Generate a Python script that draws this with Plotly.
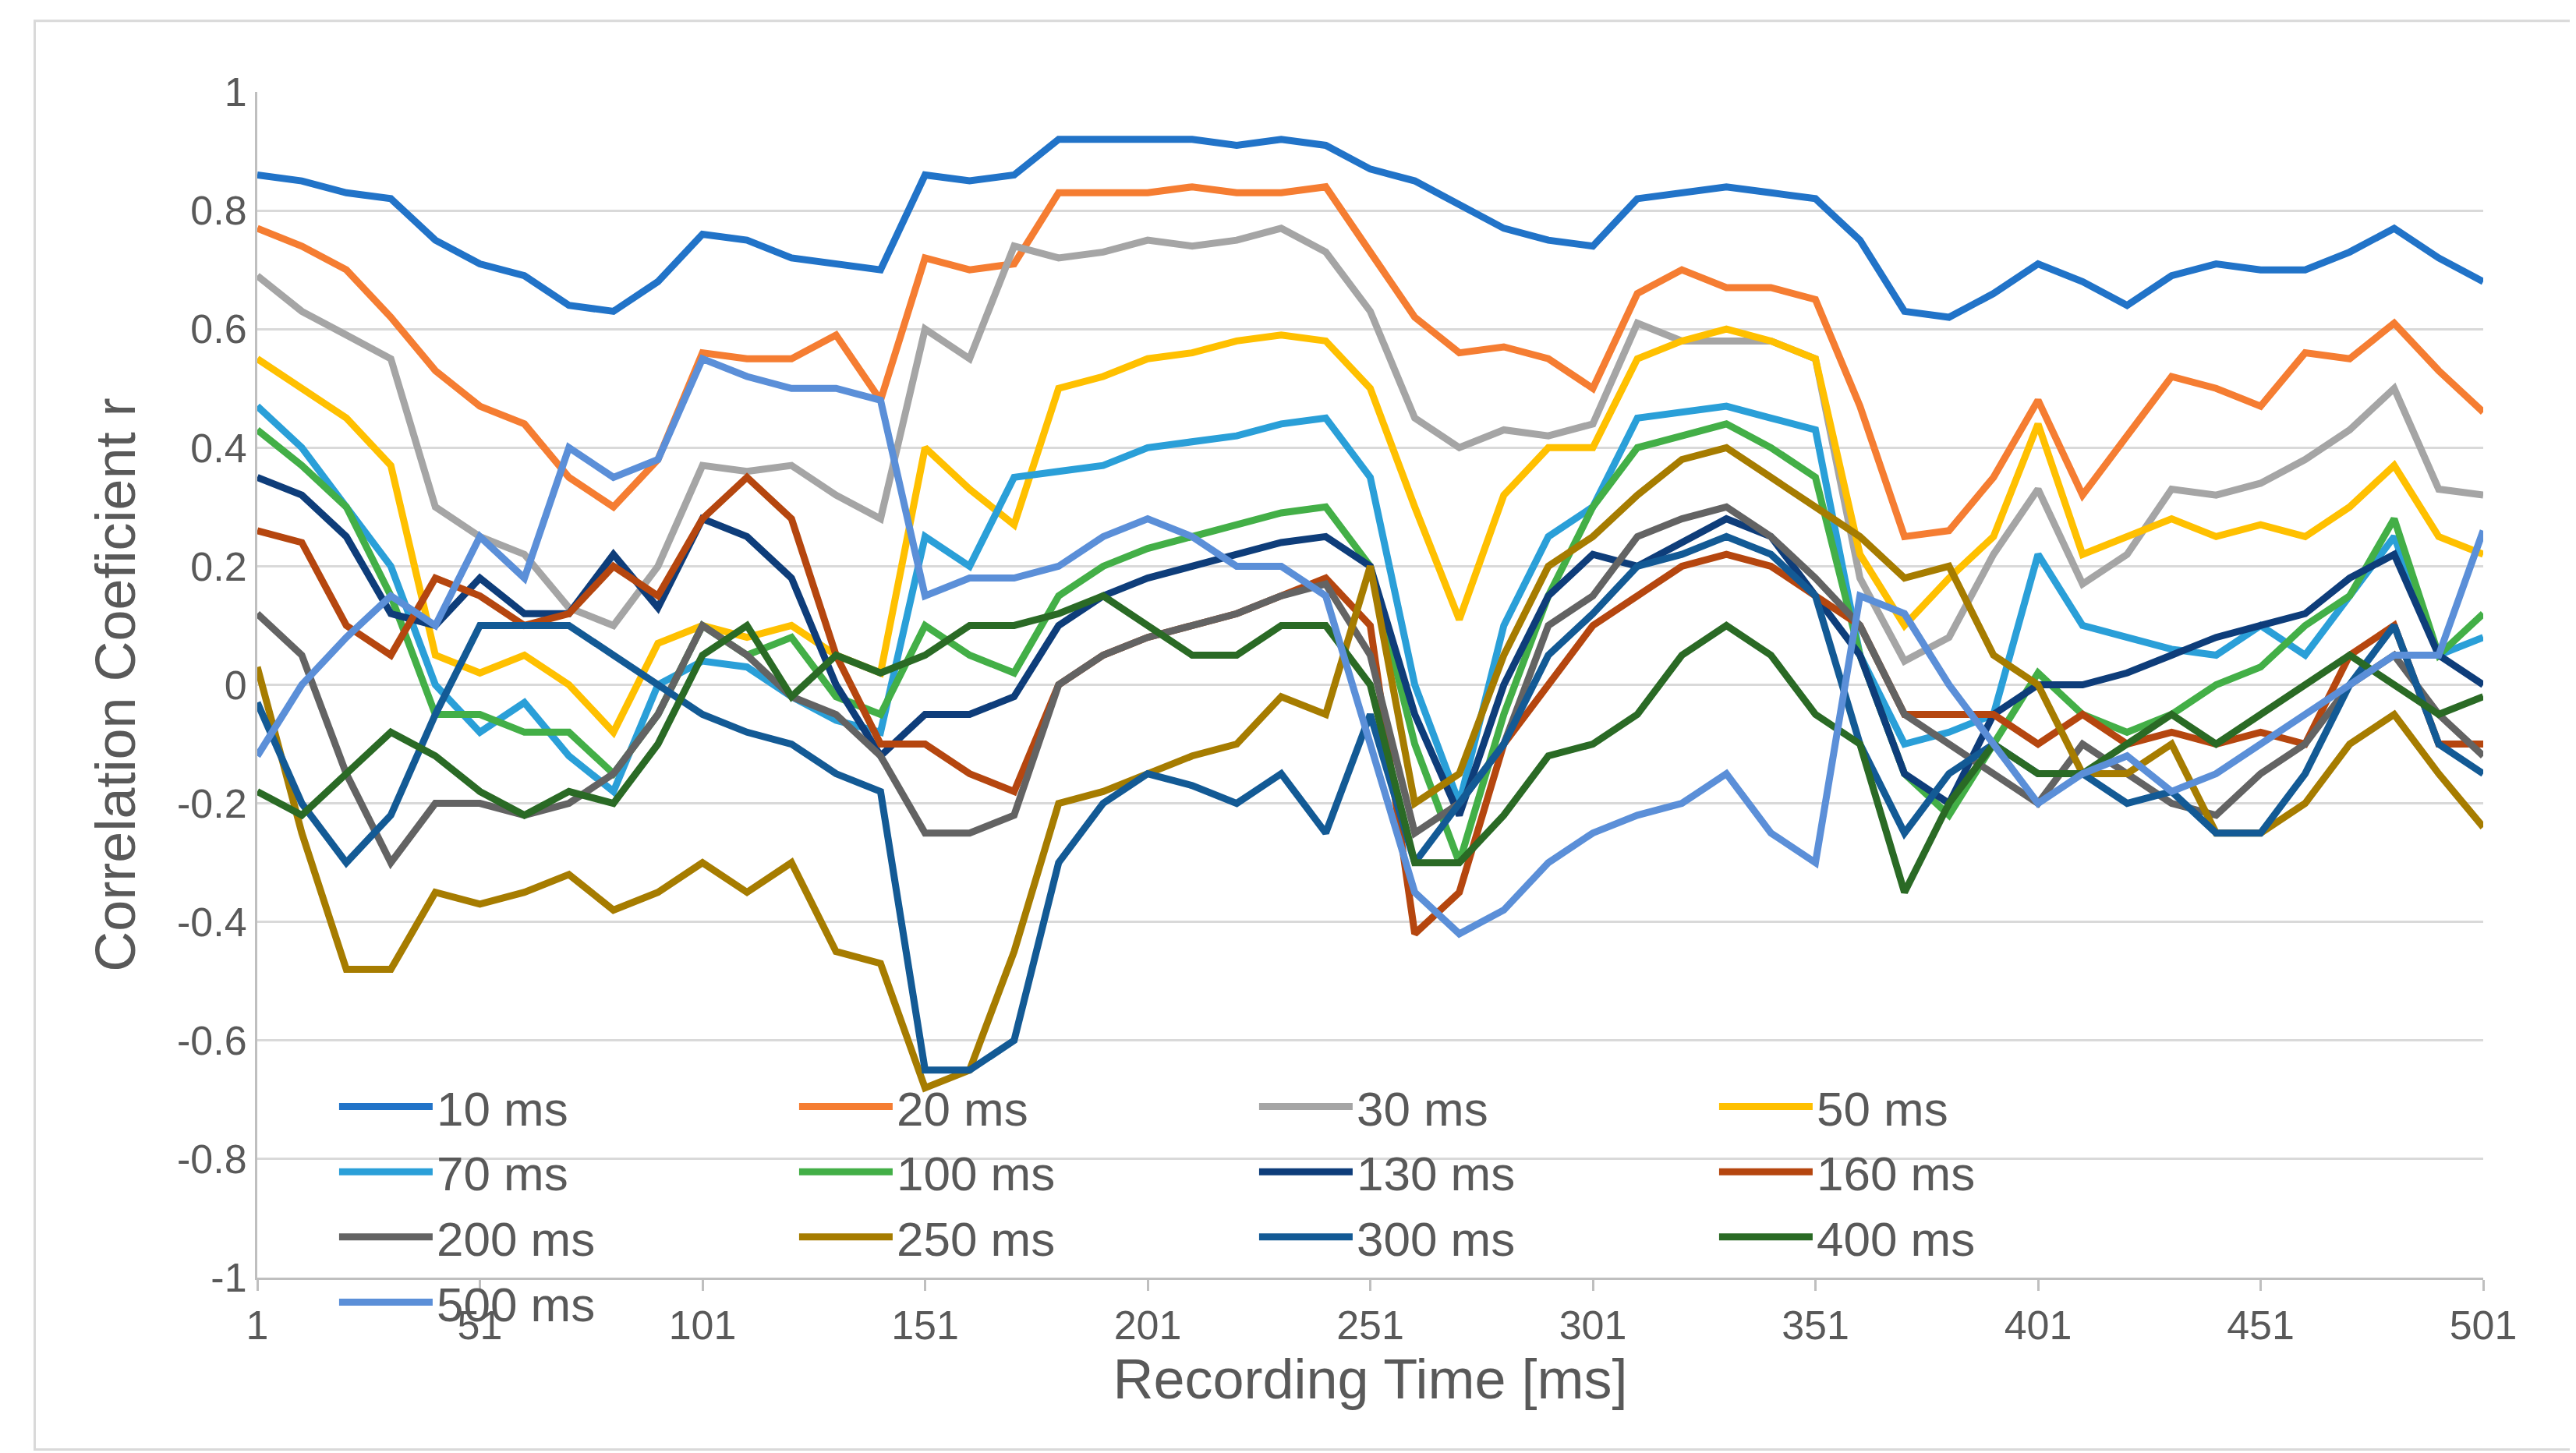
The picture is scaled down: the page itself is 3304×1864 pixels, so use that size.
import plotly.graph_objects as go

t = list(range(1, 502, 10))
names = ["10 ms","20 ms","30 ms","50 ms","70 ms","100 ms","130 ms","160 ms","200 ms","250 ms","300 ms","400 ms","500 ms"]
colors = ["#2173C8","#F57D32","#A5A5A5","#FFC000","#2A9FD8","#43AF47","#0E3D7A","#B5460F","#636363","#A67C00","#135A95","#2A6A25","#5B8FD8"]
yticks = [-1, -0.8, -0.6, -0.4, -0.2, 0, 0.2, 0.4, 0.6, 0.8, 1]
ylabels = ["-1", "-0.8", "-0.6", "-0.4", "-0.2", "0", "0.2", "0.4", "0.6", "0.8", "1"]

s10 = [.86,.85,.83,.82,.75,.71,.69,.64,.63,.68,.76,.75,.72,.71,.70,.86,.85,.86,.92,.92,.92,.92,.91,.92,.91,.87,.85,.81,.77,.75,.74,.82,.83,.84,.83,.82,.75,.63,.62,.66,.71,.68,.64,.69,.71,.70,.70,.73,.77,.72,.68]
s20 = [.77,.74,.70,.62,.53,.47,.44,.35,.30,.38,.56,.55,.55,.59,.48,.72,.70,.71,.83,.83,.83,.84,.83,.83,.84,.73,.62,.56,.57,.55,.50,.66,.70,.67,.67,.65,.47,.25,.26,.35,.48,.32,.42,.52,.50,.47,.56,.55,.61,.53,.46]
s30 = [.69,.63,.59,.55,.30,.25,.22,.13,.10,.20,.37,.36,.37,.32,.28,.60,.55,.74,.72,.73,.75,.74,.75,.77,.73,.63,.45,.40,.43,.42,.44,.61,.58,.58,.58,.55,.18,.04,.08,.22,.33,.17,.22,.33,.32,.34,.38,.43,.50,.33,.32]
s50 = [.55,.50,.45,.37,.05,.02,.05,.00,-.08,.07,.10,.08,.10,.05,.02,.40,.33,.27,.50,.52,.55,.56,.58,.59,.58,.50,.30,.11,.32,.40,.40,.55,.58,.60,.58,.55,.22,.10,.18,.25,.44,.22,.25,.28,.25,.27,.25,.30,.37,.25,.22]
s70 = [.47,.40,.30,.20,.00,-.08,-.03,-.12,-.18,.00,.04,.03,-.02,-.06,-.08,.25,.20,.35,.36,.37,.40,.41,.42,.44,.45,.35,.00,-.20,.10,.25,.30,.45,.46,.47,.45,.43,.05,-.10,-.08,-.05,.22,.10,.08,.06,.05,.10,.05,.15,.25,.05,.08]
s100 = [.43,.37,.30,.15,-.05,-.05,-.08,-.08,-.15,-.05,.10,.05,.08,-.02,-.05,.10,.05,.02,.15,.20,.23,.25,.27,.29,.30,.20,-.10,-.30,-.05,.15,.30,.40,.42,.44,.40,.35,.05,-.15,-.22,-.10,.02,-.05,-.08,-.05,.00,.03,.10,.15,.28,.05,.12]
s130 = [.35,.32,.25,.12,.10,.18,.12,.12,.22,.13,.28,.25,.18,.00,-.12,-.05,-.05,-.02,.10,.15,.18,.20,.22,.24,.25,.20,-.05,-.22,.00,.15,.22,.20,.24,.28,.25,.15,.05,-.15,-.20,-.05,.00,.00,.02,.05,.08,.10,.12,.18,.22,.05,.00]
s160 = [.26,.24,.10,.05,.18,.15,.10,.12,.20,.15,.28,.35,.28,.05,-.10,-.10,-.15,-.18,.00,.05,.08,.10,.12,.15,.18,.10,-.42,-.35,-.10,.00,.10,.15,.20,.22,.20,.15,.10,-.05,-.05,-.05,-.10,-.05,-.10,-.08,-.10,-.08,-.10,.05,.10,-.10,-.10]
s200 = [.12,.05,-.15,-.30,-.20,-.20,-.22,-.20,-.15,-.05,.10,.05,-.02,-.05,-.12,-.25,-.25,-.22,.00,.05,.08,.10,.12,.15,.17,.05,-.25,-.20,-.10,.10,.15,.25,.28,.30,.25,.18,.10,-.05,-.10,-.15,-.20,-.10,-.15,-.20,-.22,-.15,-.10,.00,.05,-.05,-.12]
s250 = [.03,-.25,-.48,-.48,-.35,-.37,-.35,-.32,-.38,-.35,-.30,-.35,-.30,-.45,-.47,-.68,-.65,-.45,-.20,-.18,-.15,-.12,-.10,-.02,-.05,.20,-.20,-.15,.05,.20,.25,.32,.38,.40,.35,.30,.25,.18,.20,.05,.00,-.15,-.15,-.10,-.25,-.25,-.20,-.10,-.05,-.15,-.24]
s300 = [-.03,-.20,-.30,-.22,-.05,.10,.10,.10,.05,.00,-.05,-.08,-.10,-.15,-.18,-.65,-.65,-.60,-.30,-.20,-.15,-.17,-.20,-.15,-.25,-.05,-.30,-.20,-.10,.05,.12,.20,.22,.25,.22,.15,-.10,-.25,-.15,-.10,-.15,-.15,-.20,-.18,-.25,-.25,-.15,.00,.10,-.10,-.15]
s400 = [-.18,-.22,-.15,-.08,-.12,-.18,-.22,-.18,-.20,-.10,.05,.10,-.02,.05,.02,.05,.10,.10,.12,.15,.10,.05,.05,.10,.10,.00,-.30,-.30,-.22,-.12,-.10,-.05,.05,.10,.05,-.05,-.10,-.35,-.20,-.10,-.15,-.15,-.10,-.05,-.10,-.05,.00,.05,.00,-.05,-.02]
s500 = [-.12,.00,.08,.15,.10,.25,.18,.40,.35,.38,.55,.52,.50,.50,.48,.15,.18,.18,.20,.25,.28,.25,.20,.20,.15,-.10,-.35,-.42,-.38,-.30,-.25,-.22,-.20,-.15,-.25,-.30,.15,.12,.00,-.10,-.20,-.15,-.12,-.18,-.15,-.10,-.05,.00,.05,.05,.26]
series = [s10,s20,s30,s50,s70,s100,s130,s160,s200,s250,s300,s400,s500]

fig = go.Figure()
for n, c, s in zip(names, colors, series):
    fig.add_trace(go.Scatter(x=t, y=s, name=n, mode="lines", line=dict(color=c, width=9)))

font = "Liberation Sans, Arial, sans-serif"
fig.update_layout(
    width=3304, height=1864, paper_bgcolor="white", plot_bgcolor="white",
    margin=dict(l=322, r=127, t=110, b=233),
    font=dict(family=font, color="#595959", size=52),
    xaxis=dict(range=[1, 501], tickvals=list(range(1, 502, 50)), showgrid=False,
               showline=True, linecolor="#BFBFBF", linewidth=3, ticks="outside",
               tickcolor="#BFBFBF", ticklen=14, tickwidth=3, zeroline=False,
               title=dict(text="Recording Time [ms]", font=dict(size=72), standoff=10)),
    yaxis=dict(range=[-1, 1], tickvals=yticks, ticktext=ylabels, showgrid=True,
               gridcolor="#D9D9D9", gridwidth=3,
               showline=True, linecolor="#BFBFBF", linewidth=3, zeroline=False,
               title=dict(text="Correlation Coeficient r", font=dict(size=72), standoff=30)),
    legend=dict(orientation="h", x=0.035, y=0.175, xanchor="left", yanchor="top",
                entrywidth=455, entrywidthmode="pixels", bgcolor="rgba(255,255,255,0)",
                font=dict(size=62), itemwidth=120, tracegroupgap=0),
    shapes=[dict(type="rect", xref="paper", yref="paper", x0=-0.1, x1=1.04, y0=-0.145, y1=1.06,
                 line=dict(color="#D9D9D9", width=3))],
)
fig.write_html("out.html")
